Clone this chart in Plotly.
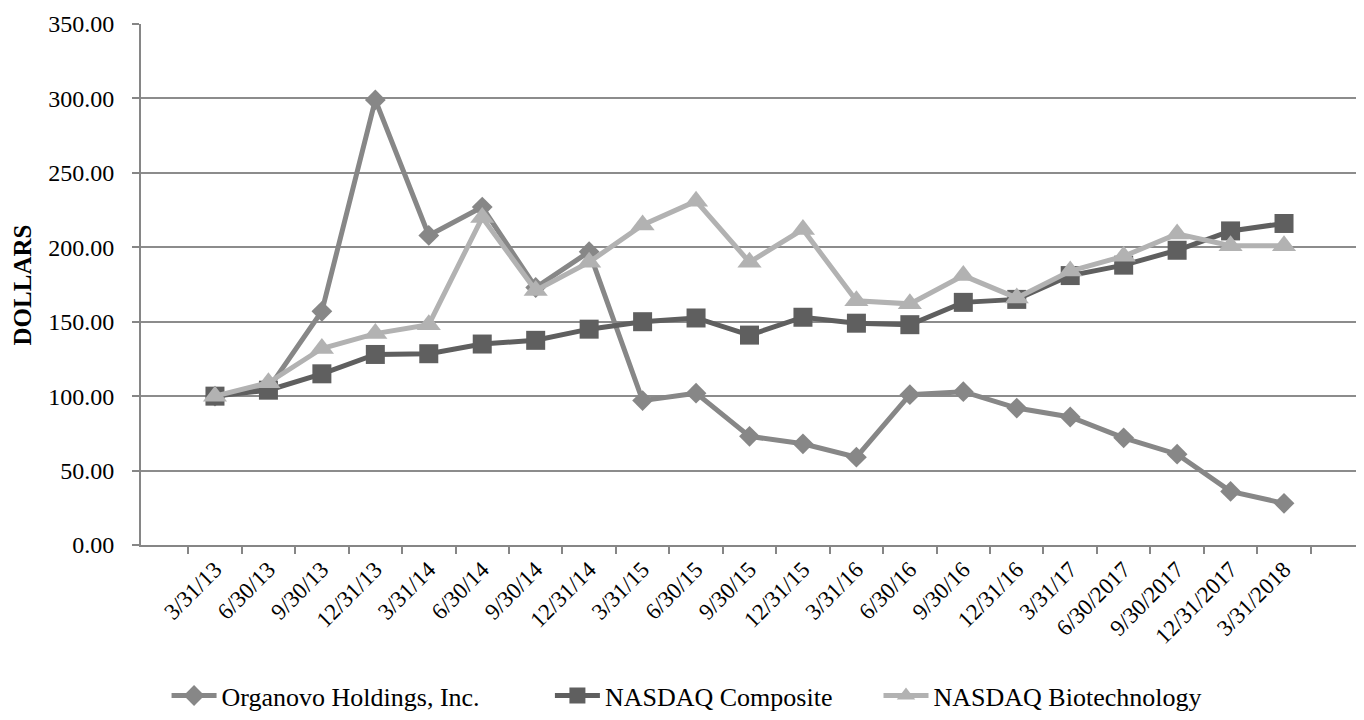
import plotly.graph_objects as go

dates = ["3/31/13", "6/30/13", "9/30/13", "12/31/13", "3/31/14", "6/30/14", "9/30/14",
         "12/31/14", "3/31/15", "6/30/15", "9/30/15", "12/31/15", "3/31/16", "6/30/16",
         "9/30/16", "12/31/16", "3/31/17", "6/30/2017", "9/30/2017", "12/31/2017", "3/31/2018"]

organovo = [100, 105, 157, 299, 208, 227, 173, 197, 97, 102, 73, 68, 59, 101, 103, 92, 86, 72, 61, 36, 28]
nasdaq_comp = [100, 104, 115, 128, 128.5, 135, 137.5, 145, 150, 152.5, 141, 153, 149, 148, 163, 165, 181, 188, 198, 211, 216]
nasdaq_bio = [100, 109, 132, 142, 148, 220, 171, 190, 215, 231, 190, 212, 164, 162, 181, 166, 184, 194, 209, 201, 201]

series = [
    ("Organovo Holdings, Inc.", organovo, "#878787", "diamond", 16, "legend", 0.021),
    ("NASDAQ Composite", nasdaq_comp, "#5f5f5f", "square", 19, "legend2", 0.336),
    ("NASDAQ Biotechnology", nasdaq_bio, "#b2b2b2", "triangle-up", 21, "legend3", 0.606),
]

font_family = "Liberation Serif, Times New Roman, serif"

fig = go.Figure()
legends = {}
for name, vals, color, sym, size, leg, lx in series:
    fig.add_trace(go.Scatter(
        x=dates, y=vals, name=name, mode="lines+markers",
        line=dict(color=color, width=5),
        marker=dict(symbol=sym, size=size, color=color),
        legend=leg,
    ))
    legends[leg] = dict(orientation="h", x=lx, xanchor="left",
                        yref="container", y=0.045, yanchor="middle",
                        font=dict(size=26, family=font_family, color="black"),
                        itemwidth=45, bgcolor="rgba(0,0,0,0)")

fig.update_layout(
    width=1364, height=720,
    paper_bgcolor="white", plot_bgcolor="white",
    margin=dict(l=133, r=14, t=16, b=183, autoexpand=False),
    font=dict(family=font_family, size=20, color="black"),
    showlegend=True,
    xaxis=dict(
        type="category", tickangle=-45, tickson="boundaries",
        showline=True, linecolor="#868686", linewidth=2,
        ticks="outside", ticklen=7, tickcolor="#868686", tickwidth=1.5,
        showgrid=False, tickfont=dict(size=23, family=font_family),
        automargin=False,
    ),
    yaxis=dict(
        range=[0, 350], tickvals=[0, 50, 100, 150, 200, 250, 300, 350],
        ticktext=["0.00", "50.00", "100.00", "150.00", "200.00", "250.00", "300.00", "350.00"],
        showline=True, linecolor="#868686", linewidth=2,
        ticks="outside", ticklen=7, tickcolor="#868686", tickwidth=1.5,
        showgrid=True, gridcolor="#8c8c8c", gridwidth=1.5,
        zeroline=False, automargin=False,
        tickfont=dict(size=24, family=font_family),
        ticklabelstandoff=13,
    ),
    annotations=[dict(
        text="<b>DOLLARS</b>", xref="paper", yref="paper",
        x=-0.097, y=0.5, xanchor="center", yanchor="middle",
        textangle=-90, showarrow=False,
        font=dict(size=25, family=font_family, color="black"),
    )],
    **legends,
)

fig.write_html("out.html")
